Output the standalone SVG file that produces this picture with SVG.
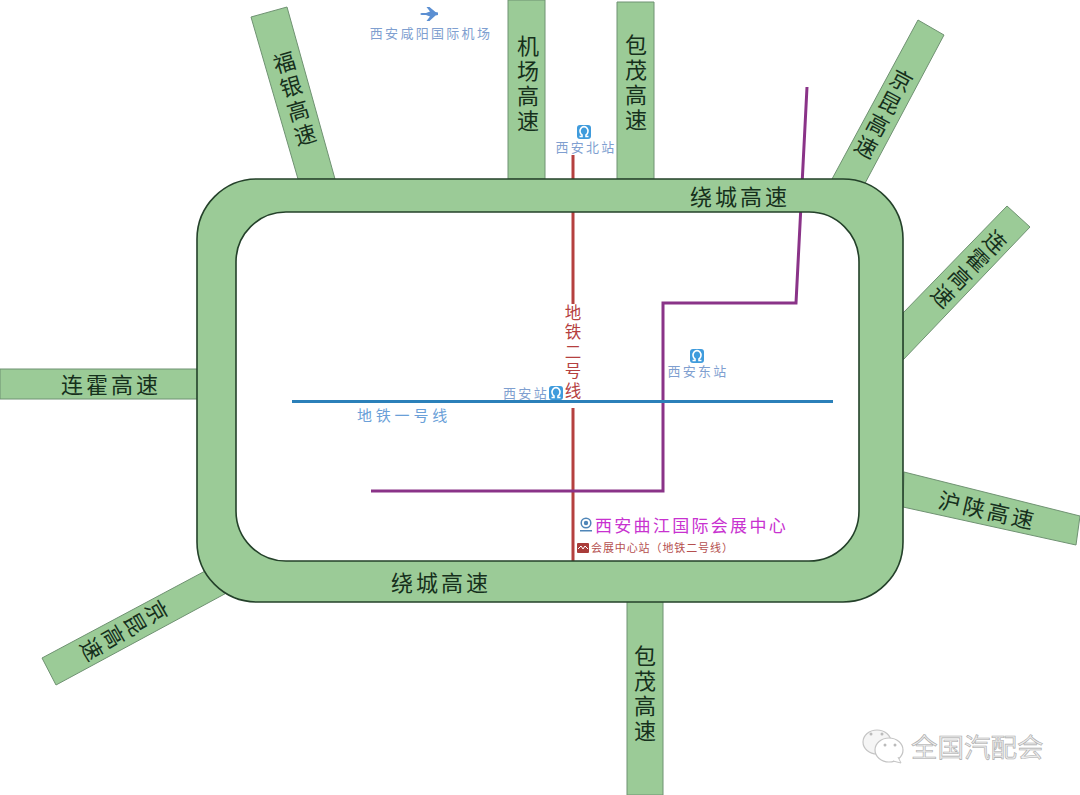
<svg xmlns="http://www.w3.org/2000/svg" width="1080" height="795" viewBox="0 0 1080 795">
<style>
text{font-family:"Noto Sans CJK SC","Noto Sans",sans-serif}
.bar{fill:#9bcb97;stroke:#6f9272;stroke-width:1}
.ring{fill:#9bcb97;fill-rule:evenodd;stroke:#24412a;stroke-width:1.6}
.hl{font-size:22px;fill:#16301c;letter-spacing:3px;text-anchor:middle;dominant-baseline:central}
.v{writing-mode:vertical-rl}
.st{font-size:13px;fill:#7f9fd0;letter-spacing:2.300px;text-anchor:middle}
.line{fill:none;stroke-width:3}
.rail{fill:#3f9bdc}
.arc{fill:none;stroke:#fff;stroke-width:1.600}
</style>
<rect width="1080" height="795" fill="#fff"/>
<g id="connectors">
<path class="line" stroke="#b5403f" d="M573 155V304M573 408V562"/>
<path class="line" stroke="#8a3388" d="M807 87L796 303H663V491H371"/>
<path class="line" stroke="#2b80b9" d="M292 401.500H833"/>
</g>
<g id="road-fuyin"><polygon class="bar" points="251,17 287,7 335,179 298,179"/><text class="hl v" transform="translate(295,100) rotate(-16)">福银高速</text></g>
<g id="road-jichang"><polygon class="bar" points="508,0 545,0 545,179 508,179"/><text class="hl v" transform="translate(528,85)">机场高速</text></g>
<g id="road-baomao-n"><polygon class="bar" points="617,2 654,2 654,179 617,179"/><text class="hl v" transform="translate(636,84)">包茂高速</text></g>
<g id="road-jingkun-ne"><polygon class="bar" points="918,20 944,35 863,187 832,179"/><text class="hl v" transform="translate(883,115) rotate(28)">京昆高速</text></g>
<g id="road-lianhuo-e"><polygon class="bar" points="1007,206 1030,227 903,360 903,313"/><text class="hl v" transform="translate(968,270) rotate(44)">连霍高速</text></g>
<g id="road-hushan"><polygon class="bar" points="904,472 1080,516 1076,545 903,507"/><text class="hl" transform="translate(988,509) rotate(13)">沪陕高速</text></g>
<g id="road-baomao-s"><polygon class="bar" points="627,600 663,600 663,795 627,795"/><text class="hl v" transform="translate(645,695)">包茂高速</text></g>
<g id="road-jingkun-sw"><polygon class="bar" points="42,658 56,685 232,590 207,570"/><text class="hl v" transform="translate(123,631) rotate(60)">京昆高速</text></g>
<g id="road-lianhuo-w"><polygon class="bar" points="0,369 199,369 199,399 0,399"/><text class="hl" x="111" y="383">连霍高速</text></g>
<g id="ring">
<path class="ring" d="M257 179H843A60 60 0 0 1 903 239V542A60 60 0 0 1 843 602H257A60 60 0 0 1 197 542V239A60 60 0 0 1 257 179ZM286 212A50 50 0 0 0 236 262V511A50 50 0 0 0 286 561H809A50 50 0 0 0 859 511V262A50 50 0 0 0 809 212Z"/>
<text class="hl" x="740" y="195">绕城高速</text>
<text class="hl" x="441" y="581">绕城高速</text>
</g>
<g id="airport">
<path fill="#5b8fd2" d="M420 13L426 13L430 11.500L426.500 7H429.500L435.500 12L438 12.500L438 15L435.500 15.500L429.500 21H426.500L430 16.500L426 15L420 15L421.500 14Z"/>
<text class="st" x="431" y="38">西安咸阳国际机场</text>
</g>
<g id="station-north">
<rect class="rail" x="577" y="125" width="14" height="14" rx="3"/><path class="arc" d="M579.500 136.500H582V135A4 4.500 0 1 1 586 135V136.500H588.500"/>
<text class="st" x="586" y="152">西安北站</text>
</g>
<g id="station-west">
<rect class="rail" x="549" y="386" width="14" height="14" rx="3"/><path class="arc" d="M551.500 397.500H554V396A4 4.500 0 1 1 558 396V397.500H560.500"/>
<text class="st" x="526" y="398">西安站</text>
</g>
<g id="station-east">
<rect class="rail" x="690" y="349" width="14" height="14" rx="3"/><path class="arc" d="M692.500 360.500H695V359A4 4.500 0 1 1 699 359V360.500H701.500"/>
<text class="st" x="698" y="376">西安东站</text>
</g>
<text x="573" y="353" style="font-size:16.500px;fill:#b5403f;letter-spacing:3px;text-anchor:middle;dominant-baseline:central;writing-mode:vertical-rl">地铁二号线</text>
<text x="404" y="421" style="font-size:15px;fill:#6a9fd8;letter-spacing:3.800px;text-anchor:middle">地铁一号线</text>
<g id="venue">
<circle cx="586" cy="523" r="4.800" fill="none" stroke="#4f86b8" stroke-width="1.500"/><circle cx="586" cy="523" r="2.200" fill="#4f86b8"/><rect x="580" y="530" width="12" height="1.500" fill="#4f86b8"/>
<text x="595" y="532" style="font-size:17px;fill:#c832d0;letter-spacing:2.300px">西安曲江国际会展中心</text>
</g>
<g id="metro-station">
<rect x="577" y="543" width="12" height="10" rx="1" fill="#a93c3a"/><path d="M578 549L581 546L583 549L585 546L588 549" fill="none" stroke="#fff" stroke-width="1"/>
<text x="591" y="552" style="font-size:11px;fill:#b5504f;letter-spacing:.9px">会展中心站（地铁二号线）</text>
</g>
<g id="watermark">
<ellipse cx="877" cy="742" rx="14" ry="12" fill="#f5f5f5" stroke="#c4c4c4" stroke-width="1.200"/>
<ellipse cx="889" cy="750" rx="14" ry="12" fill="#fff" stroke="#c4c4c4" stroke-width="1.200"/>
<path d="M893 761L901 763L898 757" fill="#fff" stroke="#c4c4c4"/>
<circle cx="871" cy="734" r="1.500" fill="#bbb"/><circle cx="882" cy="734" r="1.500" fill="#bbb"/><circle cx="885" cy="745" r="1.500" fill="#bbb"/><circle cx="895" cy="745" r="1.500" fill="#bbb"/>
<text x="911" y="757" style="font-size:26.500px;fill:#eee;stroke:#aaa;stroke-width:.6">全国汽配会</text>
</g>
</svg>
